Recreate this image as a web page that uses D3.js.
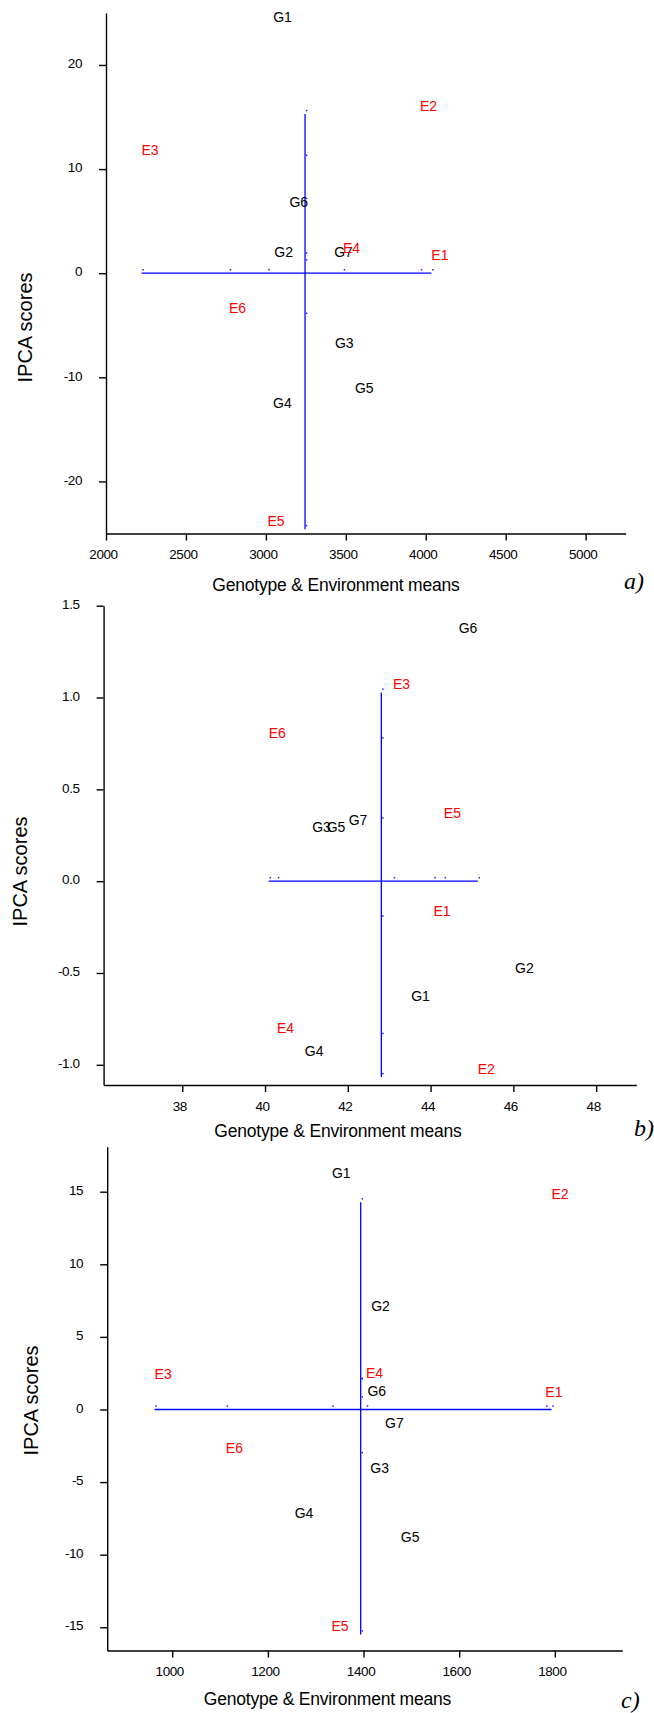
<!DOCTYPE html>
<html>
<head>
<meta charset="utf-8">
<script src="https://cdn.jsdelivr.net/npm/d3@7"></script>
<style>
  body { margin: 0; background: #fff; }
  text { font-family: 'Liberation Sans', Arial, sans-serif; }
</style>
</head>
<body>
<script>
const envNames = ['E1', 'E2', 'E3', 'E4', 'E5', 'E6']
const genNames = ['G1', 'G2', 'G3', 'G4', 'G5', 'G6', 'G7']

// a)
const envMeanA = [4035, 3964, 2222, 3482, 3010, 2769]
const envIpcaA = [0.95, 15.29, 10.99, 1.6, -24.58, -4.18]
const genMeanA = [3046, 3053, 3432, 3045, 3557, 3147, 3427]
const genIpcaA = [23.8, 1.26, -7.56, -13.24, -11.8, 6.0, 1.26]
const grandMeanA = 3245
const xTicksA = [2000, 2500, 3000, 3500, 4000, 4500, 5000]
const yTicksA = [-20, -10, 0, 10, 20]

// b)
const envMeanB = [44.07, 45.14, 43.09, 40.29, 44.32, 40.09]
const envIpcaB = [-0.208, -1.067, 1.027, -0.848, 0.325, 0.761]
const genMeanB = [43.53, 46.04, 41.14, 40.96, 41.49, 44.68, 42.02]
const genIpcaB = [-0.67, -0.518, 0.25, -0.972, 0.25, 1.333, 0.289]
const grandMeanB = 42.81
const xTicksB = [38, 40, 42, 44, 46, 48]
const yTicksB = [-1, -0.5, 0, 0.5, 1, 1.5]

// c)
const envMeanC = [1780, 1793, 963, 1405, 1333, 1112]
const envIpcaC = [0.63, 14.27, 1.88, 1.91, -15.49, -3.21]
const genMeanC = [1334, 1416, 1414, 1256, 1478, 1408, 1445]
const genIpcaC = [15.7, 6.57, -4.64, -7.71, -9.38, 0.7, -1.52]
const grandMeanC = 1394
const xTicksC = [1000, 1200, 1400, 1600, 1800]
const yTicksC = [-15, -10, -5, 0, 5, 10, 15]

const xTitle = 'Genotype & Environment means'
const yTitle = 'IPCA scores'

const svg = d3.select('body').append('svg')
  .attr('width', 654)
  .attr('height', 1713)

function drawPanel(p, envMean, envIpca, genMean, genIpca, grandMean, xTicks, yTicks, yFmt) {
  const x = d3.scaleLinear().domain(p.xDomain).range([p.left, p.right])
  const y = d3.scaleLinear().domain(p.yDomain).range([p.bottom, p.top])
  const g = svg.append('g')

  const xAxis = g.append('g')
    .attr('transform', `translate(0, ${p.bottom})`)
    .call(d3.axisBottom(x).tickValues(xTicks).tickSize(7).tickSizeOuter(0)
      .tickPadding(9).tickFormat(d => String(d)))

  const yAxis = g.append('g')
    .attr('transform', `translate(${p.left}, 0)`)
    .call(d3.axisLeft(y).tickValues(yTicks).tickSize(7).tickSizeOuter(0)
      .tickPadding(17).tickFormat(yFmt))

  for (const ax of [xAxis, yAxis]) {
    ax.attr('font-family', null).attr('font-size', null)
    ax.selectAll('path, line').attr('stroke', '#000').attr('stroke-width', 1.4)
    ax.selectAll('text')
      .attr('fill', '#000')
      .style('font-size', '13.5px')
      .style('letter-spacing', '-0.4px')
  }
  xAxis.selectAll('text').attr('dx', -3)
  yAxis.selectAll('text').attr('dy', '0.2em')

  // cross through grand mean
  const mx = d3.extent(envMean)
  const my = d3.extent(envIpca)
  g.append('line')
    .attr('stroke', '#0000ff')
    .attr('stroke-width', 1.3)
    .attr('x1', x(mx[0])).attr('x2', x(mx[1]))
    .attr('y1', y(0)).attr('y2', y(0))
  g.append('line')
    .attr('stroke', '#0000ff')
    .attr('stroke-width', 1.3)
    .attr('x1', x(grandMean)).attr('x2', x(grandMean))
    .attr('y1', y(my[0])).attr('y2', y(my[1]))

  // little projection marks of the environments
  g.selectAll('.hdot')
    .data(envMean)
    .join('rect')
    .attr('class', 'hdot')
    .attr('fill', '#2020ff')
    .attr('x', d => x(d) + 0.8)
    .attr('y', y(0) - 4.2)
    .attr('width', 1.5)
    .attr('height', 1.5)
  g.selectAll('.vdot')
    .data(envIpca)
    .join('rect')
    .attr('class', 'vdot')
    .attr('fill', '#2020ff')
    .attr('x', x(grandMean) + 0.8)
    .attr('y', d => y(d) - 4.2)
    .attr('width', 1.5)
    .attr('height', 1.5)

  g.selectAll('.gen')
    .data(genNames)
    .join('text')
    .attr('class', 'gen')
    .attr('fill', '#000')
    .style('font-size', '14px')
    .attr('x', (d, i) => x(genMean[i]))
    .attr('y', (d, i) => y(genIpca[i]))
    .attr('dy', -3.5)
    .text(d => d)

  g.selectAll('.env')
    .data(envNames)
    .join('text')
    .attr('class', 'env')
    .attr('fill', '#ff0000')
    .style('font-size', '14px')
    .attr('x', (d, i) => x(envMean[i]))
    .attr('y', (d, i) => y(envIpca[i]))
    .attr('dy', -3.5)
    .text(d => d)

  g.append('text')
    .attr('text-anchor', 'middle')
    .attr('x', p.xTitle[0])
    .attr('y', p.xTitle[1])
    .style('font-size', '17.5px')
    .style('letter-spacing', '-0.2px')
    .text(xTitle)

  g.append('text')
    .attr('text-anchor', 'middle')
    .attr('transform', `translate(${p.yTitle[0]}, ${p.yTitle[1]}) rotate(-90)`)
    .attr('dy', '0.35em')
    .style('font-size', '20px')
    .text(yTitle)

  g.append('text')
    .attr('x', p.tag[0])
    .attr('y', p.tag[1])
    .style('font-family', "'Liberation Serif', 'Times New Roman', serif")
    .style('font-style', 'italic')
    .style('font-size', '24px')
    .text(p.tagText)
}

drawPanel({
  left: 106, right: 625.6, top: 12.9, bottom: 533.5,
  xDomain: [2000, 5250], yDomain: [-25, 25],
  xTitle: [336, 591], yTitle: [24.5, 327.5], tag: [624, 589], tagText: 'a)'
}, envMeanA, envIpcaA, genMeanA, genIpcaA, grandMeanA, xTicksA, yTicksA, d => String(d))

drawPanel({
  left: 103.6, right: 636.3, top: 605.7, bottom: 1085,
  xDomain: [36.1, 48.97], yDomain: [-1.11, 1.5],
  xTitle: [338, 1137], yTitle: [19.5, 871.5], tag: [634, 1136], tagText: 'b)'
}, envMeanB, envIpcaB, genMeanB, genIpcaB, grandMeanB, xTicksB, yTicksB, d => d.toFixed(1))

drawPanel({
  left: 107.2, right: 622.3, top: 1146.7, bottom: 1650.5,
  xDomain: [864, 1941], yDomain: [-16.6, 18.1],
  xTitle: [327.4, 1705], yTitle: [31.3, 1400.5], tag: [621, 1707.5], tagText: 'c)'
}, envMeanC, envIpcaC, genMeanC, genIpcaC, grandMeanC, xTicksC, yTicksC, d => String(d))
</script>
</body>
</html>
